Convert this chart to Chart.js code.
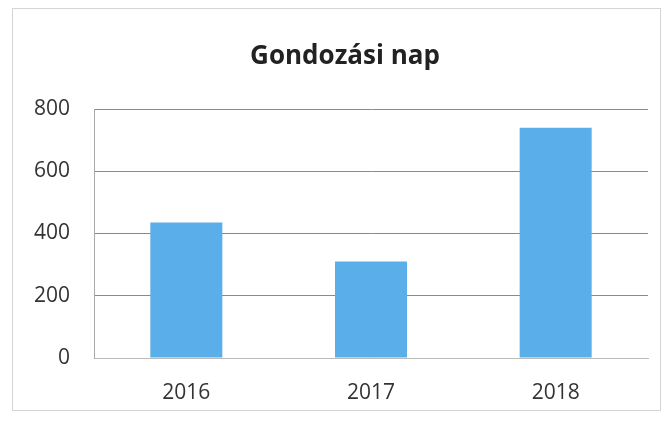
<!DOCTYPE html>
<html>
<head>
<meta charset="utf-8">
<script src="https://cdn.jsdelivr.net/npm/chart.js@4"></script>
<style>
  body { margin: 0; background: #fff; }
  #wrap { position: relative; width: 672px; height: 421px; }
</style>
</head>
<body>
<div id="wrap"><canvas id="barChart"></canvas></div>
<script>
// data
const years = ['2016', '2017', '2018'];
const days = [435, 310, 740];
const yTicks = [0, 200, 400, 600, 800];
const chartTitle = 'Gondozási nap';

// faint frame round the whole chart, and the title sitting a bit left of the plot centre like the scan
const frame = {
  id: 'frame',
  beforeDraw(chart) {
    const ctx = chart.ctx;
    ctx.save();
    ctx.strokeStyle = '#d4d4d4';
    ctx.lineWidth = 1;
    ctx.strokeRect(12.5, 8.5, 648, 402);
    ctx.restore();
  },
  afterDraw(chart) {
    const ctx = chart.ctx;
    ctx.save();
    ctx.fillStyle = '#222';
    ctx.font = 'bold 26px "Open Sans"';
    ctx.textAlign = 'center';
    ctx.textBaseline = 'alphabetic';
    ctx.fillText(chartTitle, 345, 64);
    ctx.restore();
  }
};

const ctxBar = document.getElementById('barChart');

new Chart(ctxBar, {
  type: 'bar',
  data: {
    labels: years,
    datasets: [{
      label: chartTitle,
      data: days,
      backgroundColor: '#5aaeea',
      borderWidth: 0,
      categoryPercentage: 1,
      barPercentage: 0.39
    }]
  },
  options: {
    responsive: true,
    maintainAspectRatio: false,
    animation: false,
    layout: { padding: { left: 0, right: 24, top: 109, bottom: 10 } },
    scales: {
      x: {
        grid: { display: false, drawTicks: false },
        border: { color: '#bbb' },
        ticks: { color: '#333', font: { family: 'Open Sans', size: 21 }, padding: 22 },
        afterFit: (s) => { s.height = 53; }
      },
      y: {
        min: 0,
        max: 800,
        afterBuildTicks: (s) => { s.ticks = yTicks.map(v => ({ value: v })); },
        grid: { color: '#8a8a8a', drawTicks: false },
        border: { color: '#aaa' },
        ticks: { color: '#333', font: { family: 'Open Sans', size: 21 }, padding: 24 },
        afterFit: (s) => { s.width = 94; }
      }
    },
    plugins: {
      legend: { display: false },
      tooltip: { enabled: false },
      title: { display: false }
    }
  },
  plugins: [frame]
});
</script>
</body>
</html>
